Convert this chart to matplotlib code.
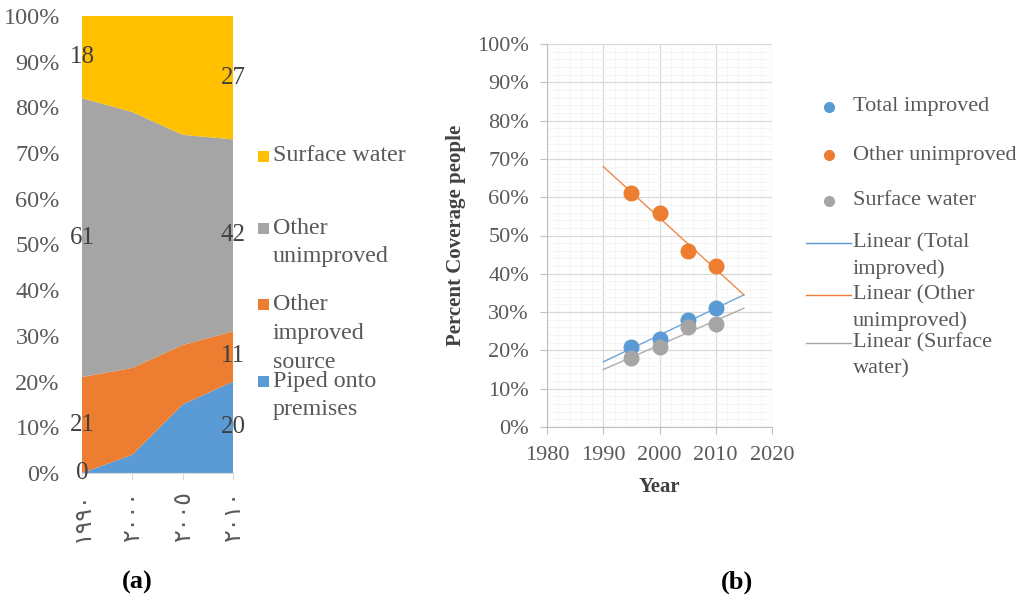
import numpy as np
import matplotlib
matplotlib.use("Agg")
import matplotlib.pyplot as plt
from matplotlib.lines import Line2D
from matplotlib.patches import Rectangle
from matplotlib.ticker import MultipleLocator, FuncFormatter

plt.rcParams['font.family'] = ['Liberation Serif', 'DejaVu Sans']

# ---- data: panel (a), stacked percent areas
years_a = ['١٩٩٠', '٢٠٠٠', '٢٠٠٥', '٢٠١٠']
piped = [0, 4, 15, 20]
other_improved = [21, 19, 13, 11]
other_unimproved = [61, 56, 46, 42]
surface_water = [18, 21, 26, 27]
labels_a = ['Piped onto premises', 'Other improved source', 'Other unimproved', 'Surface water']

# ---- data: panel (b), scatter + linear trends
years_b = [1995, 2000, 2005, 2010]
total_improved_b = [21, 23, 28, 31]
other_unimproved_b = [61, 56, 46, 42]
surface_water_b = [18, 21, 26, 27]

c_blue = '#5B9BD5'
c_orange = '#ED7D31'
c_gray = '#A5A5A5'
c_yellow = '#FFC000'
txt = '#595959'

W, H = 1019, 603
fig = plt.figure(figsize=(W / 100, H / 100), dpi=100)


def fx(px):
    return px / W


def fy(py):
    return 1 - py / H


# ================= panel (a) =================
ax1 = fig.add_axes([fx(82), fy(473), fx(233) - fx(82), fy(16) - fy(473)])
x = np.arange(len(years_a))
ax1.stackplot(x, piped, other_improved, other_unimproved, surface_water,
              colors=[c_blue, c_orange, c_gray, c_yellow], linewidth=0)
ax1.set_xlim(0, 3)
ax1.set_ylim(0, 100)
ax1.set_yticks(np.arange(0, 101, 10))
ax1.yaxis.set_major_formatter(FuncFormatter(lambda v, p: f'{v:.0f}%'))
ax1.tick_params(axis='y', length=0, pad=16, labelsize=17.5, labelcolor=txt)
ax1.set_xticks(x)
ax1.set_xticklabels(years_a, rotation=90, fontsize=17, color=txt,
                    family=['DejaVu Sans'])
ax1.tick_params(axis='x', length=5, color='#D9D9D9', pad=8)
for s in ['top', 'right', 'left']:
    ax1.spines[s].set_visible(False)
ax1.spines['bottom'].set_color('#D9D9D9')

# data labels at the first and last category
series = [piped, other_improved, other_unimproved, surface_water]
for idx in [0, 3]:
    base = 0
    for s in series:
        v = s[idx]
        ax1.text(idx, base + v / 2, f'{v}', ha='center', va='center',
                 fontsize=18, color='#404040')
        base += v

# legend for panel (a), drawn by hand to follow the original wrapping
leg_a = [
    (c_yellow, ['Surface water'], 156),
    (c_gray, ['Other', 'unimproved'], 228),
    (c_orange, ['Other', 'improved', 'source'], 304),
    (c_blue, ['Piped onto', 'premises'], 381),
]
for col, lines, y0 in leg_a:
    fig.add_artist(Rectangle((fx(258), fy(y0 + 6)), fx(11), fy(y0 - 5) - fy(y0 + 6),
                             facecolor=col, edgecolor='none'))
    for k, ln in enumerate(lines):
        fig.text(fx(273), fy(y0 + k * 29), ln, ha='left', va='center',
                 fontsize=17.3, color=txt)

# ================= panel (b) =================
ax2 = fig.add_axes([fx(547), fy(427), fx(772) - fx(547), fy(44) - fy(427)])
ax2.set_xlim(1980, 2020)
ax2.set_ylim(0, 100)
ax2.xaxis.set_major_locator(MultipleLocator(10))
ax2.xaxis.set_minor_locator(MultipleLocator(2))
ax2.yaxis.set_major_locator(MultipleLocator(10))
ax2.yaxis.set_minor_locator(MultipleLocator(2))
ax2.yaxis.set_major_formatter(FuncFormatter(lambda v, p: f'{v:.0f}%'))
ax2.grid(which='major', color='#D9D9D9', linewidth=0.9)
ax2.grid(which='minor', color='#F4F4F4', linewidth=0.6)
ax2.set_axisbelow(True)
for s in ['top', 'right']:
    ax2.spines[s].set_visible(False)
for s in ['left', 'bottom']:
    ax2.spines[s].set_color('#BFBFBF')
ax2.tick_params(which='major', length=5, color='#BFBFBF', labelsize=16,
                labelcolor=txt)
ax2.tick_params(which='minor', length=0)
ax2.tick_params(axis='y', pad=8)
ax2.tick_params(axis='x', pad=9)

fit_x = np.array([1990, 2015])
series_b = [
    (total_improved_b, c_blue, 'Total improved'),
    (other_unimproved_b, c_orange, 'Other unimproved'),
    (surface_water_b, c_gray, 'Surface water'),
]
for vals, col, name in series_b:
    k, b = np.polyfit(years_b, vals, 1)
    ax2.plot(fit_x, k * fit_x + b, color=col, linewidth=1.0, alpha=0.9, zorder=2)
for vals, col, name in series_b:
    ax2.plot(years_b, vals, 'o', color=col, markersize=10.5, zorder=3)

ax2.set_xlabel('Year', fontsize=15, fontweight='bold', color='#404040', labelpad=8)
ax2.set_ylabel('Percent Coverage people', fontsize=15, fontweight='bold',
               color='#404040', labelpad=8)

# legend for panel (b), drawn by hand
leg_pts = [(c_blue, 'Total improved', 107), (c_orange, 'Other unimproved', 155),
           (c_gray, 'Surface water', 201)]
for col, name, y0 in leg_pts:
    fig.add_artist(Line2D([fx(829)], [fy(y0)], marker='o', color=col,
                          markersize=7, linestyle='none'))
    fig.text(fx(853), fy(y0), name, ha='left', va='center', fontsize=16, color=txt)

leg_lines = [(c_blue, ['Linear (Total', 'improved)'], 243),
             (c_orange, ['Linear (Other', 'unimproved)'], 295),
             (c_gray, ['Linear (Surface', 'water)'], 343)]
for col, lines, y0 in leg_lines:
    fig.add_artist(Line2D([fx(806), fx(851)], [fy(y0), fy(y0)], color=col,
                          linewidth=1.0))
    for k, ln in enumerate(lines):
        fig.text(fx(853), fy(y0 + k * 26), ln, ha='left', va='center',
                 fontsize=16, color=txt)

# panel captions
fig.text(fx(137), fy(582), '(a)', ha='center', va='center', fontsize=19,
         fontweight='bold', color='black')
fig.text(fx(737), fy(582), '(b)', ha='center', va='center', fontsize=19,
         fontweight='bold', color='black')

fig.savefig('out.png', dpi=100, facecolor='white')
